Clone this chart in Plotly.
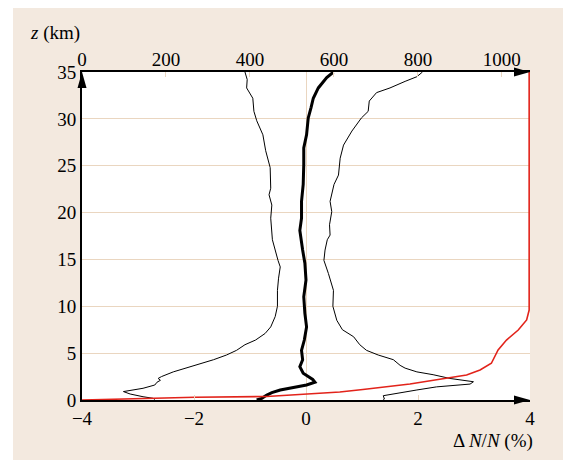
import plotly.graph_objects as go

# Left thin curve (ΔN/N %, z km)
left_z = [35, 34.2, 33.3, 32.2, 30.8, 29.8, 28.3, 26.6, 24.8, 22.6, 21.9, 20.8, 19.4, 17.6, 17.1,
          14.9, 14.2, 13.0, 11.7, 10.0, 8.9, 7.8, 7.1, 6.4, 5.9, 5.3, 4.8, 4.3, 3.55, 3.0, 2.5,
          2.3, 2.1, 1.9, 1.6, 1.25, 0.9, 0.75, 0.64, 0.35, 0.18, 0.05]
left_x = [-1.09, -1.05, -1.06, -0.95, -0.93, -0.88, -0.77, -0.72, -0.64, -0.63, -0.66, -0.61, -0.63, -0.61, -0.60,
          -0.50, -0.46, -0.49, -0.51, -0.51, -0.55, -0.63, -0.73, -0.90, -1.09, -1.24, -1.42, -1.65, -2.07, -2.37, -2.58,
          -2.64, -2.60, -2.66, -2.70, -2.91, -3.26, -3.20, -3.14, -2.91, -2.73, -2.70]

# Central thick curve
mid_z = [35, 34.4, 33.3, 32.2, 31.2, 30.1, 28.3, 26.9, 25.1, 23.0, 21.2, 19.4, 18.1, 17.6, 16.0,
         14.6, 12.8, 11.0, 9.25, 7.8, 6.4, 5.3, 4.3, 3.55, 2.85, 2.2, 1.9, 1.6, 1.35, 1.07, 0.78,
         0.53, 0.18, 0.0]
mid_x = [0.49, 0.37, 0.22, 0.13, 0.09, 0.04, 0.01, -0.04, -0.04, -0.05, -0.08, -0.08, -0.11, -0.10, -0.06,
         -0.02, 0.00, -0.04, -0.02, 0.01, -0.03, -0.08, -0.06, -0.11, -0.05, 0.12, 0.16, 0.01, -0.25, -0.46, -0.61,
         -0.70, -0.79, -0.88]

# Right thin curve
right_z = [35, 34.5, 34.0, 33.3, 32.8, 31.9, 30.8, 30.1, 28.7, 27.2, 25.8, 24.0, 23.0, 21.2, 20.1,
           18.7, 17.6, 17.1, 16.0, 14.9, 13.5, 11.7, 10.0, 8.5, 7.5, 6.75, 5.9, 5.3, 4.8, 4.3, 3.7,
           3.4, 3.0, 2.7, 2.3, 1.95, 1.7, 1.4, 1.07, 0.64, 0.46, 0.1, 0.05]
right_x = [2.08, 1.98, 1.77, 1.50, 1.26, 1.13, 1.11, 0.99, 0.82, 0.67, 0.61, 0.58, 0.50, 0.43, 0.46,
           0.42, 0.43, 0.38, 0.34, 0.32, 0.40, 0.49, 0.48, 0.55, 0.65, 0.85, 0.96, 1.08, 1.29, 1.56, 1.68,
           1.77, 1.98, 2.27, 2.57, 2.99, 2.93, 2.33, 1.98, 1.50, 1.38, 1.40, 1.38]

# Red curve on the top axis
red_z = [0, 0.16, 0.29, 0.37, 0.53, 0.61, 0.85, 1.12, 1.42, 1.71, 2.21, 2.67, 3.2, 3.92, 5.34,
         6.4, 7.47, 8.54, 9.6, 10.5, 35]
red_n = [0, 162, 269, 440, 495, 533, 614, 669, 733, 781, 852, 916, 948, 975, 991,
         1011, 1039, 1059, 1065, 1065, 1065]

x_ticks = [-4, -2, 0, 2, 4]
x_ticktext = ["\u22124", "\u22122", "0", "2", "4"]
top_ticks = [0, 200, 400, 600, 800, 1000]
z_ticks = [0, 5, 10, 15, 20, 25, 30, 35]

BEIGE = "#f3e9df"
GRID = "#ead6c0"
FONT = "Liberation Serif"

fig = go.Figure()
fig.add_trace(go.Scatter(x=left_x, y=left_z, mode="lines", line=dict(color="black", width=1), showlegend=False))
fig.add_trace(go.Scatter(x=right_x, y=right_z, mode="lines", line=dict(color="black", width=1), showlegend=False))
fig.add_trace(go.Scatter(x=mid_x, y=mid_z, mode="lines", line=dict(color="black", width=3), showlegend=False))
fig.add_trace(go.Scatter(x=red_n, y=red_z, mode="lines", line=dict(color="#e2231a", width=1.6),
                         xaxis="x2", showlegend=False))

fig.update_layout(
    width=563, height=452,
    margin=dict(l=74, r=41, t=64, b=60),
    paper_bgcolor=BEIGE, plot_bgcolor="white",
    font=dict(family=FONT, size=19, color="black"),
    xaxis=dict(range=[-4, 4], tickvals=x_ticks, ticktext=x_ticktext, showgrid=False,
               zeroline=True, zerolinecolor=GRID, zerolinewidth=1,
               showline=True, linecolor="black", linewidth=2,
               ticks="inside", ticklen=5, tickcolor=GRID, tickwidth=1),
    xaxis2=dict(range=[0, 1067], tickvals=top_ticks, overlaying="x", side="top", anchor="y",
                showgrid=False, zeroline=False,
                showline=True, linecolor="black", linewidth=2,
                ticks="inside", ticklen=5, tickcolor=GRID, tickwidth=1,
                ticklabelstandoff=-4),
    yaxis=dict(range=[0, 35], tickvals=z_ticks, showgrid=True, gridcolor=GRID, gridwidth=1,
               zeroline=False, showline=True, linecolor="black", linewidth=2, ticks=""),
    shapes=[
        dict(type="path", xref="paper", yref="paper", xsizemode="pixel", ysizemode="pixel",
             xanchor=0, yanchor=1, path="M0,0 L-4.5,-16 L4.5,-16 Z",
             fillcolor="black", line=dict(width=0), layer="above"),
        dict(type="path", xref="paper", yref="paper", xsizemode="pixel", ysizemode="pixel",
             xanchor=1, yanchor=0, path="M0,0 L-16,4.5 L-16,-4.5 Z",
             fillcolor="black", line=dict(width=0), layer="above"),
        dict(type="path", xref="paper", yref="paper", xsizemode="pixel", ysizemode="pixel",
             xanchor=1, yanchor=1, path="M0,0 L-16,4.5 L-16,-4.5 Z",
             fillcolor="black", line=dict(width=0), layer="above"),
        dict(type="rect", xref="paper", yref="paper", x0=-0.3, x1=-0.154, y0=-0.3, y1=1.4,
             fillcolor="white", line=dict(width=0), layer="above"),
    ],
    annotations=[
        dict(text="<i>z</i> (km)", xref="paper", yref="paper", x=-0.1205, y=1.119,
             xanchor="left", yanchor="middle", showarrow=False, font=dict(size=19)),
        dict(text="\u0394 <i>N</i>/<i>N</i> (%)", xref="paper", yref="paper", x=1.011, y=-0.125,
             xanchor="right", yanchor="middle", showarrow=False, font=dict(size=19)),
    ],
)

fig.write_html("out.html")
